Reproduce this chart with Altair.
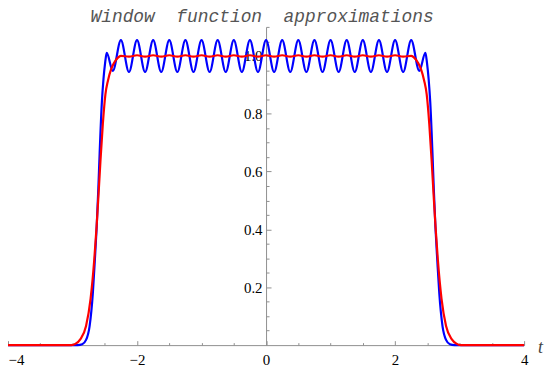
import altair as alt
import pandas as pd

# ---- data ----
blue_t = [-4.0, -2.92, -2.85, -2.79, -2.735, -2.685, -2.655, -2.625, -2.6, -2.58, -2.545, -2.52, -2.495, -2.47,
          -2.375, -2.25, -2.125, -2.0, -1.875, -1.75, -1.625, -1.5, -1.375, -1.25, -1.125, -1.0, -0.875,
          -0.75, -0.625, -0.5, -0.375, -0.25, -0.125, 0.0, 0.125, 0.25, 0.375, 0.5, 0.625, 0.75, 0.875,
          1.0, 1.125, 1.25, 1.375, 1.5, 1.625, 1.75, 1.875, 2.0, 2.125, 2.25, 2.375,
          2.47, 2.495, 2.52, 2.545, 2.58, 2.6, 2.625, 2.655, 2.685, 2.735, 2.79, 2.85, 2.92, 4.0]
blue_y = [0.0, 0.0, 0.003, 0.018, 0.066, 0.18, 0.29, 0.41, 0.54, 0.66, 0.84, 0.92, 0.975, 1.01,
          0.948, 1.054, 0.944, 1.054, 0.944, 1.054, 0.944, 1.054, 0.944, 1.054, 0.944, 1.054, 0.944,
          1.054, 0.944, 1.054, 0.944, 1.054, 0.944, 1.054, 0.944, 1.054, 0.944, 1.054, 0.944, 1.054, 0.944,
          1.054, 0.944, 1.054, 0.944, 1.054, 0.944, 1.054, 0.944, 1.054, 0.944, 1.054, 0.948,
          1.01, 0.975, 0.92, 0.84, 0.66, 0.54, 0.41, 0.29, 0.18, 0.066, 0.018, 0.003, 0.0, 0.0]

red_t = [-4.0, -3.02, -2.95, -2.88, -2.79, -2.72, -2.663, -2.627, -2.596, -2.566, -2.53, -2.49, -2.45,
         -2.4, -2.35, -2.3, -2.25, -2.125, -2.0, -1.875, -1.75, -1.625, -1.5, -1.375, -1.25, -1.125,
         -1.0, -0.875, -0.75, -0.625, -0.5, -0.375, -0.25, -0.125, 0.0, 0.125, 0.25, 0.375, 0.5, 0.625,
         0.75, 0.875, 1.0, 1.125, 1.25, 1.375, 1.5, 1.625, 1.75, 1.875, 2.0, 2.125, 2.25, 2.3, 2.35,
         2.4, 2.45, 2.49, 2.53, 2.566, 2.596, 2.627, 2.663, 2.72, 2.79, 2.88, 2.95, 3.02, 4.0]
red_y = [0.0, 0.0, 0.005, 0.02, 0.066, 0.16, 0.295, 0.409, 0.524, 0.64, 0.765, 0.867, 0.915,
         0.955, 0.978, 0.993, 1.0, 0.997, 1.002, 0.997, 1.002, 0.997, 1.002, 0.997, 1.002, 0.997,
         1.002, 0.997, 1.002, 0.997, 1.002, 0.997, 1.002, 0.997, 1.002, 0.997, 1.002, 0.997, 1.002, 0.997,
         1.002, 0.997, 1.002, 0.997, 1.002, 0.997, 1.002, 0.997, 1.002, 0.997, 1.002, 0.997, 1.0, 0.993, 0.978,
         0.955, 0.915, 0.867, 0.765, 0.64, 0.524, 0.409, 0.295, 0.16, 0.066, 0.02, 0.005, 0.0, 0.0]

title_text = "Window\u00a0 function\u00a0 approximations"
x_label_values = [-4, -2, 0, 2, 4]
y_label_values = [0.2, 0.4, 0.6, 0.8, 1.0]
x_tick_values = [-4, -3.5, -3, -2.5, -2, -1.5, -1, -0.5, 0, 0.5, 1, 1.5, 2, 2.5, 3, 3.5, 4]
y_tick_values = [0.05, 0.1, 0.15, 0.2, 0.25, 0.3, 0.35, 0.4, 0.45, 0.5, 0.55, 0.6, 0.65, 0.7,
                 0.75, 0.8, 0.85, 0.9, 0.95, 1.0, 1.05, 1.1]

W, H = 519, 320
AX = "#8f8f8f"
SERIF = "Liberation Serif, DejaVu Serif, serif"
MONO = "Liberation Mono, DejaVu Sans Mono, monospace"

blue_df = pd.DataFrame({"t": blue_t, "f": blue_y})
red_df = pd.DataFrame({"t": red_t, "f": red_y})

xs = alt.Scale(domain=[-4, 4], nice=False, zero=False)
ys = alt.Scale(domain=[0, 1.1], nice=False, zero=False)

blue = alt.Chart(blue_df).mark_line(color="#0000ff", strokeWidth=2.2, interpolate="monotone").encode(
    x=alt.X("t:Q", scale=xs, axis=alt.Axis(
        orient="bottom", values=x_label_values, format="d", ticks=False, tickSize=0, grid=False,
        domainColor=AX, domainWidth=1, labelFont=SERIF, labelFontSize=15, labelColor="#000",
        labelPadding=7, labelFlush=False, labelOverlap=False,
        labelAlign={"condition": {"test": "datum.value == -4", "value": "left"}, "value": "center"},
        title="t", titleX=535, titleY=7, titleFont=SERIF, titleFontStyle="italic",
        titleFontWeight="normal", titleFontSize=18, titleColor="#444", titleAlign="center",
        titleBaseline="alphabetic", titleAngle=0)),
    y=alt.Y("f:Q", scale=ys, axis=alt.Axis(
        orient="left", offset=-W / 2, values=y_label_values, format=".1f", ticks=False, tickSize=0,
        grid=False, domainColor=AX, domainWidth=1, labelFont=SERIF, labelFontSize=15,
        labelColor="#000", labelPadding=4, labelBaseline="middle", labelOverlap=False, title=None)),
)

red = alt.Chart(red_df).mark_line(color="#ff0000", strokeWidth=2.2, interpolate="monotone").encode(
    x=alt.X("t:Q", scale=xs, axis=alt.Axis(
        orient="top", offset=-H, values=x_tick_values, labels=False, domain=False, grid=False,
        tickColor=AX, tickWidth=1,
        tickSize={"condition": {"test": "datum.value % 2 == 0", "value": 4.5}, "value": 2.5},
        title=None)),
    y=alt.Y("f:Q", scale=ys, axis=alt.Axis(
        orient="right", offset=-W / 2, values=y_tick_values, labels=False, domain=False, grid=False,
        tickColor=AX, tickWidth=1,
        tickSize={"condition": {"test": "abs(round(datum.value * 100)) % 20 == 0", "value": 5},
                  "value": 3},
        title=None)),
)

title = alt.Chart(pd.DataFrame({"label": [title_text]})).mark_text(
    font=MONO, fontSize=18, fontStyle="italic", fontWeight="normal", color="#555",
    align="center", baseline="alphabetic",
).encode(x=alt.value(W / 2 - 4), y=alt.value(-5), text="label:N")

chart = alt.layer(blue, red, title).resolve_axis(x="independent", y="independent").properties(
    width=W, height=H,
    background="white",
    autosize=alt.AutoSizeParams(type="none"),
    padding={"left": 0, "top": 18, "right": 20, "bottom": 22},
).configure_view(stroke=None)

chart.save("out.html", embed_options={"renderer": "svg", "actions": False})
